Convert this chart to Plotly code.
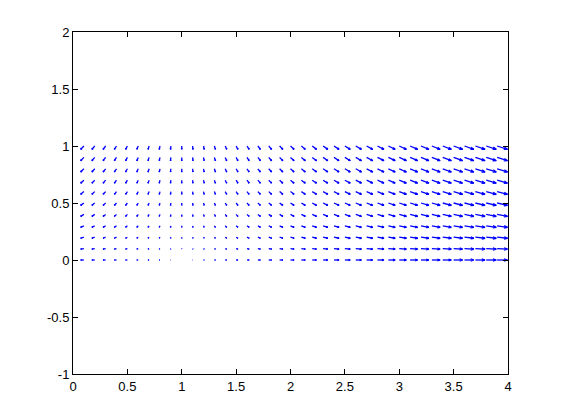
import plotly.graph_objects as go

# grid positions (data units)
x_vals = [0.1, 0.2, 0.3, 0.4, 0.5, 0.6, 0.7, 0.8, 0.9, 1.0,
          1.1, 1.2, 1.3, 1.4, 1.5, 1.6, 1.7, 1.8, 1.9, 2.0,
          2.1, 2.2, 2.3, 2.4, 2.5, 2.6, 2.7, 2.8, 2.9, 3.0,
          3.1, 3.2, 3.3, 3.4, 3.5, 3.6, 3.7, 3.8, 3.9, 4.0]
y_vals = [0.0, 0.1, 0.2, 0.3, 0.4, 0.5, 0.6, 0.7, 0.8, 0.9, 1.0]

# horizontal component, estimated per column (same in every row)
u_by_column = [-0.9, -0.8, -0.7, -0.6, -0.5, -0.4, -0.3, -0.2, -0.1, 0.0,
               0.1, 0.2, 0.3, 0.4, 0.5, 0.6, 0.7, 0.8, 0.9, 1.0,
               1.1, 1.2, 1.3, 1.4, 1.5, 1.6, 1.7, 1.8, 1.9, 2.0,
               2.1, 2.2, 2.3, 2.4, 2.5, 2.6, 2.7, 2.8, 2.9, 3.0]
# vertical component, estimated per row (same in every column)
v_by_row = [0.0, -0.14, -0.28, -0.41, -0.53, -0.63, -0.72, -0.79, -0.85, -0.88, -0.9]

# arrows scaled so the longest shafts nearly span one grid cell (as in the reference)
maxmag = 0.0
for u in u_by_column:
    for v in v_by_row:
        maxmag = max(maxmag, (u * u + v * v) ** 0.5)
scale = 0.103 / maxmag

alpha, beta = 0.33, 0.33
eps = 1e-12
sx, sy, hx, hy = [], [], [], []
for i, y in enumerate(y_vals):
    for j, x in enumerate(x_vals):
        u = u_by_column[j] * scale
        v = v_by_row[i] * scale
        sx += [x, x + u, None]
        sy += [y, y + v, None]
        hx += [x + u - alpha * (u + beta * (v + eps)), x + u,
               x + u - alpha * (u - beta * (v + eps)), None]
        hy += [y + v - alpha * (v - beta * (u + eps)), y + v,
               y + v - alpha * (v + beta * (u + eps)), None]

fig = go.Figure()
fig.add_trace(go.Scatter(x=sx, y=sy, mode="lines", line=dict(color="#0000ff", width=1.3),
                         hoverinfo="skip", showlegend=False))
fig.add_trace(go.Scatter(x=hx, y=hy, mode="lines", line=dict(color="#0000ff", width=1.3),
                         hoverinfo="skip", showlegend=False))

xt = [0, 0.5, 1, 1.5, 2, 2.5, 3, 3.5, 4]
xtl = ["0", "0.5", "1", "1.5", "2", "2.5", "3", "3.5", "4"]
yt = [-1, -0.5, 0, 0.5, 1, 1.5, 2]
ytl = ["-1", "-0.5", "0", "0.5", "1", "1.5", "2"]

axis_common = dict(showline=True, linecolor="black", linewidth=1, mirror="allticks",
                   ticks="inside", ticklen=5, tickcolor="black", tickwidth=1,
                   showgrid=False, zeroline=False)
fig.update_layout(
    width=561, height=420,
    margin=dict(l=65, r=61, t=24, b=54),
    paper_bgcolor="white", plot_bgcolor="white",
    font=dict(family="Liberation Sans, Arial, sans-serif", size=13, color="black"),
    xaxis=dict(range=[0, 4], tickvals=xt, ticktext=xtl, **axis_common),
    yaxis=dict(range=[-1, 2], tickvals=yt, ticktext=ytl, **axis_common),
)
fig.write_html("out.html")
